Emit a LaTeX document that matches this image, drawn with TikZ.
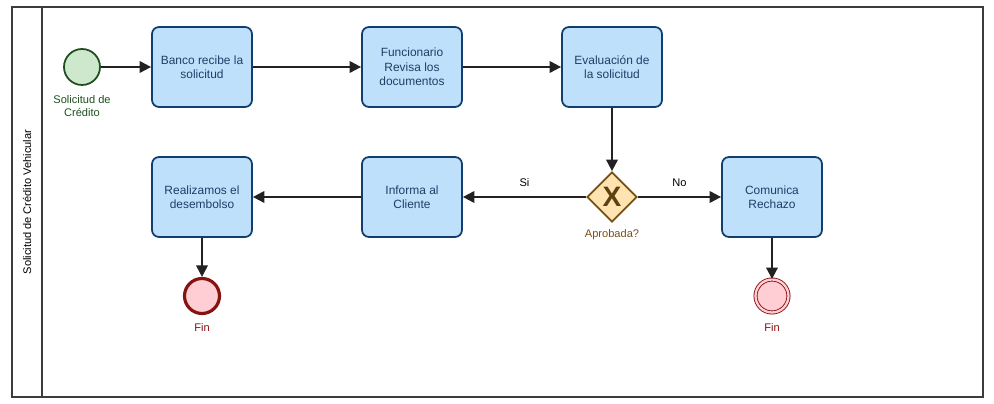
\documentclass[tikz,border=0pt]{standalone}
\usepackage{fontspec}
\setmainfont{Liberation Sans}
\usetikzlibrary{positioning}
\usetikzlibrary{shapes.geometric, arrows.meta}

\definecolor{taskfill}{RGB}{191,224,250}
\definecolor{taskline}{RGB}{16,62,111}
\definecolor{tasktext}{RGB}{30,62,105}
\definecolor{startfill}{RGB}{205,232,205}
\definecolor{startline}{RGB}{30,78,30}
\definecolor{gatefill}{RGB}{255,228,178}
\definecolor{gateline}{RGB}{120,80,20}
\definecolor{endfill}{RGB}{255,206,212}
\definecolor{endline}{RGB}{135,18,18}
\definecolor{flowline}{RGB}{34,34,34}
\definecolor{poolline}{RGB}{60,60,60}

\begin{document}
\begin{tikzpicture}[x=0.02cm,y=-0.02cm]
    \tikzset{base/.style = {rectangle, rounded corners=4pt, draw=taskline, line width=1pt,
                           minimum width=2cm, minimum height=1.6cm, inner sep=1pt,
                           align=center, font=\fontsize{6.8}{8.2}\selectfont}}
    \tikzset{task/.style = {base, fill=taskfill, text=tasktext}}
    \tikzset{startev/.style = {circle, draw=startline, fill=startfill, line width=1pt,
                              minimum size=0.72cm, inner sep=0}}
    \tikzset{endev/.style = {circle, draw=endline, fill=endfill, line width=1.8pt,
                            minimum size=0.7cm, inner sep=0}}
    \tikzset{endevb/.style = {circle, draw=endline, double=endfill, double distance=1.3pt,
                             fill=endfill, line width=0.5pt, minimum size=0.66cm, inner sep=0}}
    \tikzset{gate/.style = {diamond, draw=gateline, fill=gatefill, line width=1pt,
                           minimum width=1cm, minimum height=1cm, inner sep=0,
                           text=gateline!80!black, font=\fontsize{16}{16}\selectfont\bfseries}}
    \tikzset{lbl/.style = {font=\fontsize{6.3}{7.6}\selectfont, align=center}}
    \tikzset{flow/.style = {-{Triangle[length=6.5pt,width=6.5pt]}, draw=flowline, line width=1.1pt}}

    \useasboundingbox (0,0) rectangle (994,404);

    % pool and lane
    \draw[poolline, line width=0.9pt] (12,7) rectangle (983,397);
    \draw[poolline, line width=0.9pt] (42,7) -- (42,397);
    \node (lane) [lbl, rotate=90] at (27,202) {Solicitud de Crédito Vehicular};

    \node (S) [startev, label={[lbl, text=startline, yshift=-1.8pt]below:Solicitud de\\Crédito}] at (82,67) {};
    \node (T1) [task] at (202,67) {Banco recibe la\\solicitud};
    \node (T2) [task] at (412,67) {Funcionario\\Revisa los\\documentos};
    \node (T3) [task] at (612,67) {Evaluación de\\la solicitud};
    \node (G) [gate, label={[lbl, text=gateline, yshift=0pt]below:Aprobada?}] at (612,197) {X};
    \node (T4) [task] at (412,197) {Informa al\\Cliente};
    \node (T5) [task] at (202,197) {Realizamos el\\desembolso};
    \node (T6) [task] at (772,197) {Comunica\\Rechazo};
    \node (E1) [endev, label={[lbl, text=endline, yshift=-1.2pt]below:Fin}] at (202,296) {};
    \node (E2) [endevb, label={[lbl, text=endline, yshift=-2.6pt]below:Fin}] at (772,296) {};

    \draw[flow] (S) -- (T1);
    \draw[flow] (T1) -- (T2);
    \draw[flow] (T2) -- (T3);
    \draw[flow] (T3) -- (G);
    \draw[flow] (G) -- node[lbl, above=2pt] {Si} (T4);
    \draw[flow] (G) -- node[lbl, above=2pt] {No} (T6);
    \draw[flow] (T4) -- (T5);
    \draw[flow] (T5) -- (E1);
    \draw[flow] (T6) -- (E2);

\end{tikzpicture}
\end{document}
